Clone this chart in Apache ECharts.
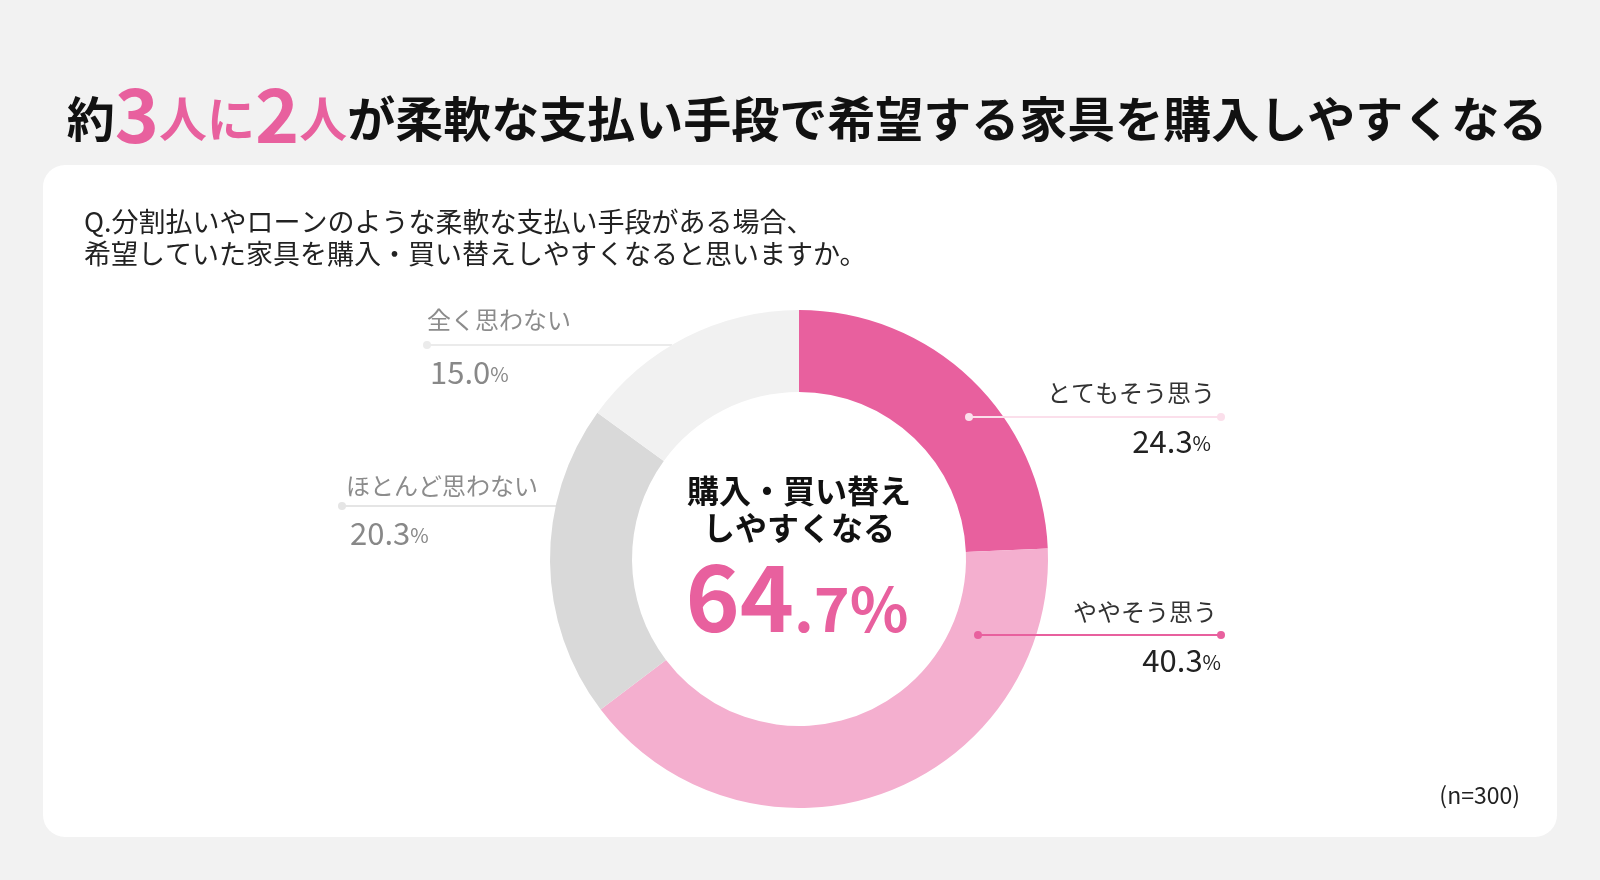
<!DOCTYPE html>
<html>
<head>
    <meta charset="utf-8"/>
    <title>柔軟な支払い手段と家具購入</title>
    <script src="https://cdn.jsdelivr.net/npm/echarts@6/dist/echarts.min.js"></script>
    <style>
        html, body { margin: 0; padding: 0; background: #f2f2f2; }
        .card {
            position: absolute; left: 43px; top: 165px; width: 1514px; height: 672px;
            background: #fff; border-radius: 22px;
        }
        #main { position: absolute; left: 0; top: 0; width: 1600px; height: 880px; }
    </style>
</head>
<body>
<div class="card"></div>
<div id="main"></div>
<script>
    // データ
    var categories = ['とてもそう思う', 'ややそう思う', 'ほとんど思わない', '全く思わない'];
    var values = [24.3, 40.3, 20.3, 15.0];
    var agreeTotal = 64.7;      // 購入・買い替えしやすくなる (表記どおり)
    var sampleSize = 300;

    var FONT = '"Noto Sans CJK JP", "Noto Sans", sans-serif';
    var sliceColors = ['#e8609e', '#f4afcf', '#d9d9d9', '#f1f1f1'];

    // 注釈の配置 (side: 文字の寄せ方向)
    var notes = [
        { side: 'right', nameX: 1215, nameY: 393, lineY: 417, x0: 969, x1: 1221, dots: [true, true],
          lineColor: '#fbdfeb', nameColor: '#333', valX: 1211, valY: 441, valColor: '#222' },
        { side: 'right', nameX: 1217, nameY: 612, lineY: 635, x0: 978, x1: 1221, dots: [true, true],
          lineColor: '#e8609e', nameColor: '#333', valX: 1221, valY: 660, valColor: '#222' },
        { side: 'left', nameX: 346, nameY: 486, lineY: 506, x0: 342, x1: 556, dots: [true, false],
          lineColor: '#e5e5e5', nameColor: '#8c8c8c', valX: 350, valY: 533, valColor: '#888' },
        { side: 'left', nameX: 427, nameY: 320, lineY: 345, x0: 427, x1: 672, dots: [true, false],
          lineColor: '#ebebeb', nameColor: '#8c8c8c', valX: 430, valY: 372, valColor: '#888' }
    ];

    var chart = echarts.init(document.getElementById('main'), null, {renderer: 'canvas'});

    var graphics = [];

    // タイトル
    graphics.push({
        type: 'text', x: 807, y: 119, z: 10,
        style: {
            text: '約{p|3}{q|人に}{p|2}{q|人}が柔軟な支払い手段で希望する家具を購入しやすくなる',
            font: '700 48px ' + FONT, fill: '#111', align: 'center', verticalAlign: 'middle',
            rich: {
                p: { fontSize: 75, fontWeight: 700, fontFamily: FONT, fill: '#e8609e', padding: [0, 0, 10, 0] },
                q: { fontSize: 48, fontWeight: 700, fontFamily: FONT, fill: '#e8609e' }
            }
        }
    });

    // 設問
    graphics.push({
        type: 'text', x: 84, y: 222, z: 10,
        style: {
            text: 'Q.分割払いやローンのような柔軟な支払い手段がある場合、',
            font: '400 27px ' + FONT, fill: '#222', align: 'left', verticalAlign: 'middle'
        }
    });
    graphics.push({
        type: 'text', x: 84, y: 254, z: 10,
        style: {
            text: '希望していた家具を購入・買い替えしやすくなると思いますか。',
            font: '400 27px ' + FONT, fill: '#222', align: 'left', verticalAlign: 'middle'
        }
    });

    // 中央
    graphics.push({
        type: 'text', x: 799, y: 491, z: 10,
        style: { text: '購入・買い替え', font: '700 32px ' + FONT, fill: '#111', align: 'center', verticalAlign: 'middle' }
    });
    graphics.push({
        type: 'text', x: 799, y: 528, z: 10,
        style: { text: 'しやすくなる', font: '700 32px ' + FONT, fill: '#111', align: 'center', verticalAlign: 'middle' }
    });
    var totalParts = agreeTotal.toFixed(1).split('.');
    graphics.push({
        type: 'text', x: 797, y: 597, z: 10,
        style: {
            text: '{a|' + totalParts[0] + '}{b|.' + totalParts[1] + '%}',
            align: 'center', verticalAlign: 'middle',
            rich: {
                a: { fontSize: 92, fontWeight: 700, fontFamily: FONT, fill: '#e8609e', verticalAlign: 'bottom' },
                b: { fontSize: 61, fontWeight: 700, fontFamily: FONT, fill: '#e8609e', verticalAlign: 'bottom', padding: [0, 0, 4, 0] }
            }
        }
    });

    // 注釈 (ラベル・引き出し線・点)
    notes.forEach(function (n, i) {
        graphics.push({
            type: 'text', x: n.nameX, y: n.nameY, z: 10,
            style: { text: categories[i], font: '400 24px ' + FONT, fill: n.nameColor,
                align: n.side, verticalAlign: 'middle' }
        });
        graphics.push({
            type: 'line', z: n.side === 'right' ? 100 : 1,
            shape: { x1: n.x0, y1: n.lineY, x2: n.x1, y2: n.lineY },
            style: { stroke: n.lineColor, lineWidth: 2 }
        });
        [n.x0, n.x1].forEach(function (dx, k) {
            if (!n.dots[k]) return;
            graphics.push({
                type: 'circle', z: 101,
                shape: { cx: dx, cy: n.lineY, r: 4 },
                style: { fill: n.lineColor }
            });
        });
        graphics.push({
            type: 'text', x: n.valX, y: n.valY, z: 10,
            style: {
                text: '{v|' + values[i].toFixed(1) + '}{u|%}',
                align: n.side, verticalAlign: 'middle',
                rich: {
                    v: { fontSize: 31, fontFamily: FONT, fill: n.valColor, verticalAlign: 'bottom' },
                    u: { fontSize: 20, fontFamily: FONT, fill: n.valColor, verticalAlign: 'bottom', padding: [0, 0, 3, 0] }
                }
            }
        });
    });

    // n数
    graphics.push({
        type: 'text', x: 1520, y: 795, z: 10,
        style: { text: '(n=' + sampleSize + ')', font: '400 23px ' + FONT, fill: '#222', align: 'right', verticalAlign: 'middle' }
    });

    var option = {
        backgroundColor: 'transparent',
        animation: false,
        textStyle: { fontFamily: FONT },
        series: [{
            type: 'pie',
            center: [799, 559],
            radius: [167, 249],
            startAngle: 90,
            clockwise: true,
            label: { show: false },
            labelLine: { show: false },
            emphasis: { disabled: true },
            data: categories.map(function (name, i) {
                return { name: name, value: values[i], itemStyle: { color: sliceColors[i] } };
            })
        }],
        graphic: graphics
    };
    chart.setOption(option);
</script>
</body>
</html>
